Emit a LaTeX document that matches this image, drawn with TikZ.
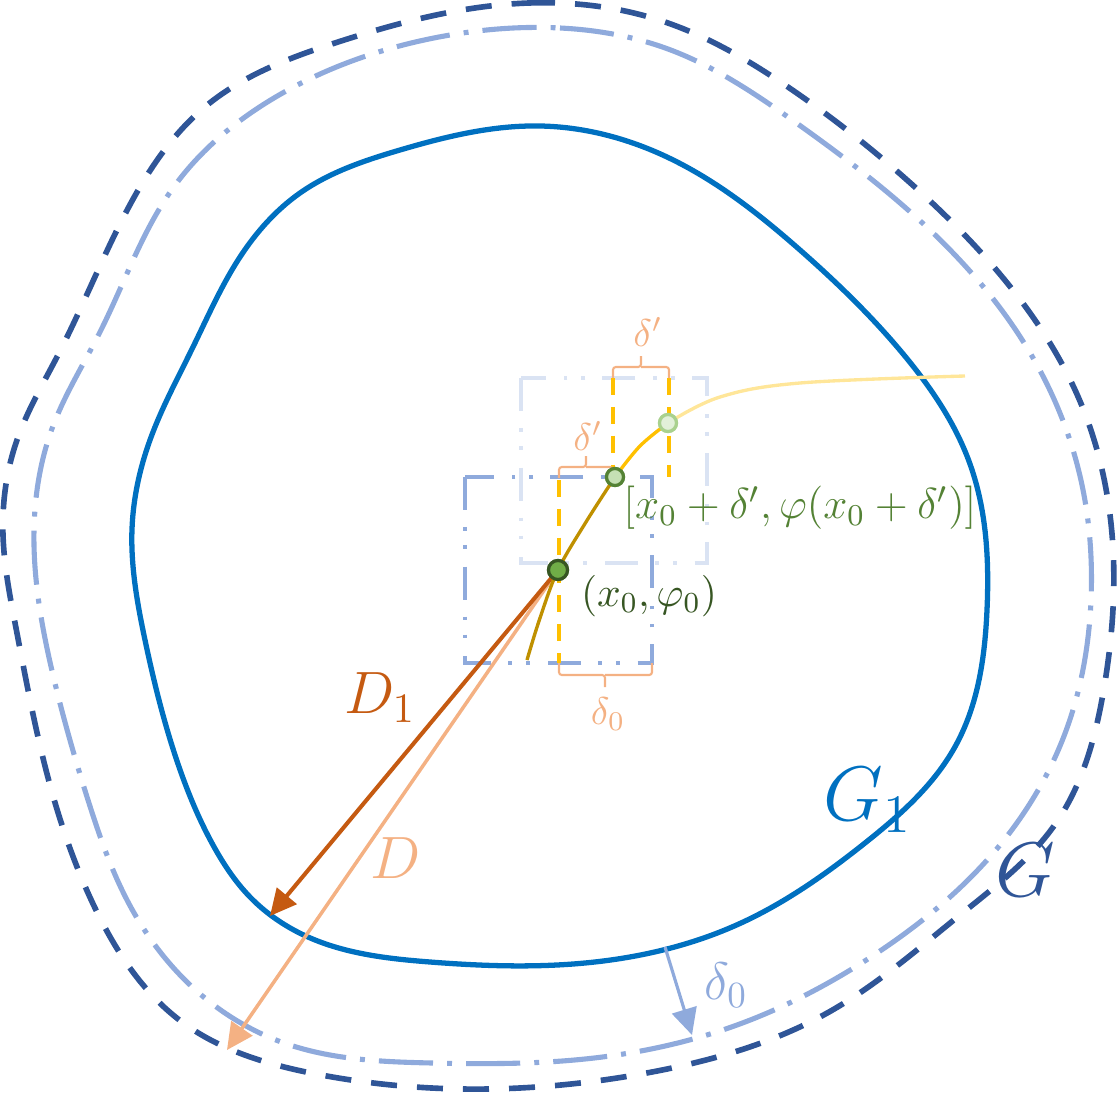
\documentclass[tikz,border=0pt]{standalone}
\usepackage{fix-cm}
\usetikzlibrary{arrows.meta,positioning,hobby}
\definecolor{gOneBlue}{HTML}{0070C0}
\definecolor{gBlue}{HTML}{2F5597}
\definecolor{gDeltaBlue}{HTML}{8FAADC}
\definecolor{boxPale}{HTML}{DAE3F3}
\definecolor{dOrange}{HTML}{C55A11}
\definecolor{dLight}{HTML}{F4B183}
\definecolor{phiGold}{HTML}{BF9000}
\definecolor{phiYellow}{HTML}{FFC000}
\definecolor{phiPale}{HTML}{FFE699}
\definecolor{ptDark}{HTML}{375623}
\definecolor{ptMid}{HTML}{548235}
\definecolor{ptFill}{HTML}{70AD47}
\definecolor{ptLight}{HTML}{A9D18E}
\definecolor{ptPale}{HTML}{C5E0B4}
\definecolor{ptPaler}{HTML}{E2F0D9}
\begin{document}
\begin{tikzpicture}[x=0.01cm,y=-0.01cm,
    ringdash/.style={gBlue,line width=1.6pt,dash pattern=on 7.4pt off 5.7pt},
    ringdashdot/.style={gDeltaBlue,line width=1.45pt,dash pattern=on 15.4pt off 4pt on 1.4pt off 4pt},
    boxline/.style={line width=1.15pt,dash pattern=on 9.4pt off 4.8pt on 1.1pt off 4pt on 1.1pt off 5.1pt},
    stripe/.style={phiYellow,line width=1.1pt,dash pattern=on 4.8pt off 3.4pt},
    brace/.style={dLight,line width=0.6pt,rounded corners=0.8pt},
    dot/.style={circle,inner sep=0pt,minimum size=0.17cm,line width=0.9pt},
    tip/.style={-{Triangle[length=7.5pt,width=7.2pt]}}]
    \useasboundingbox (0,0) rectangle (1118,1094);%

    \draw[ringdash] plot[closed hobby] coordinates {(529,3) (665,22) (785,85)
      (907,180) (1008,284) (1082,406) (1113,548) (1104,688) (1056,823) (960,915) (829,1012)
      (652,1072) (462,1089) (316,1074) (182,1022) (95,908) (46,770) (16,628) (3,535)
      (17,440) (58,355) (122,220) (206,106) (338,42)};%
    \draw[ringdashdot] plot[closed hobby] coordinates {(560,28) (668,49) (795,122)
      (917,218) (1019,335) (1080,476) (1091,600) (1067,728) (1000,845) (874,955) (737,1025)
      (585,1059) (432,1063) (284,1043) (187,982) (127,900) (88,800) (53,675) (34,545)
      (53,426) (100,332) (173,188) (288,90) (439,37)};%
    \draw[gOneBlue,line width=1.5pt] plot[closed hobby] coordinates {(540,126) (667,157)
      (800,250) (904,355) (970,464) (987,610) (956,745) (865,843) (741,923) (585,963)
      (430,962) (308,937) (250,897) (213,845) (176,758) (145,640) (132,529) (150,440)
      (193,347) (240,257) (300,193) (400,150)};%

    \draw[boxline,boxPale] (521,378) rectangle (707,563);%
    \draw[boxline,gDeltaBlue] (465,477) rectangle (652,663);%

    \draw[stripe] (559,480) -- (559,663);%
    \draw[stripe] (613,378) -- (613,477);%
    \draw[stripe] (669,378) -- (669,477);%

    \draw[brace] (613,378) -- (613,367) -- (641,367) -- (641,356);%
    \draw[brace] (641,367) -- (669,367) -- (669,378);%
    \draw[brace] (559,478) -- (559,467) -- (586,467) -- (586,456);%
    \draw[brace] (586,467) -- (613,467) -- (613,477);%
    \draw[brace] (559,663) -- (559,675) -- (605,675) -- (605,687);%
    \draw[brace] (605,675) -- (652,675) -- (652,663);%

    \node[dot,draw=ptDark,fill=ptFill,minimum size=0.19cm] (P0) at (558,570) {};%
    \node[dot,draw=ptMid,fill=ptPale] (P1) at (615,477) {};%
    \node[dot,draw=ptLight,fill=ptPaler] (P2) at (668,423) {};%

    \coordinate (tipDOne) at (270,916);%
    \coordinate (tipD) at (227,1050);%
    \coordinate (dzStart) at (665,947);%
    \coordinate (dzTip) at (692,1035);%

    \draw[tip,dLight,line width=1pt] (P0.center) -- (tipD);%
    \draw[tip,dOrange,line width=1.15pt] (P0.center) -- (tipDOne);%
    \draw[tip,gDeltaBlue,line width=0.9pt] (dzStart) -- (dzTip);%

    \draw[phiGold,line width=0.95pt] plot[smooth,tension=0.6] coordinates {(527,660) (540,618)
      (558,570) (586,522) (615,477)};%
    \draw[phiYellow,line width=0.95pt] plot[smooth,tension=0.6] coordinates {(615,477)
      (640,446) (668,423)};%
    \draw[phiPale,line width=0.95pt] plot[smooth,tension=0.6] coordinates {(668,423)
      (720,397) (800,383) (965,376)};%

    \node[dot,draw=ptDark,fill=ptFill,minimum size=0.19cm] at (P0) {};%
    \node[dot,draw=ptMid,fill=ptPale] at (P1) {};%
    \node[dot,draw=ptLight,fill=ptPaler] at (P2) {};%

    \node[ptDark,font=\fontsize{11.8}{14}\selectfont] (lblPZero) at (649,596) {$(x_0,\varphi_0)$};%
    \node[ptMid,font=\fontsize{12.3}{15}\selectfont] (lblPOne) at (800,508) {$[x_0+\delta',\varphi(x_0+\delta')]$};%
    \node[dLight,font=\fontsize{11}{13}\selectfont] (lblDeltaTop) at (648,332) {$\delta'$};%
    \node[dLight,font=\fontsize{11}{13}\selectfont] (lblDeltaMid) at (588,436) {$\delta'$};%
    \node[dLight,font=\fontsize{11}{13}\selectfont] (lblDeltaLow) at (608,714) {$\delta_0$};%
    \node[dOrange,font=\fontsize{17}{20}\selectfont] (lblDOne) at (380,698) {$D_1$};%
    \node[dLight,font=\fontsize{17}{20}\selectfont] (lblD) at (396,858) {$D$};%
    \node[gOneBlue,font=\fontsize{22}{26}\selectfont] (lblGOne) at (868,800) {$G_1$};%
    \node[gBlue,font=\fontsize{22}{26}\selectfont] (lblG) at (1025,870) {$G$};%
    \node[gDeltaBlue,font=\fontsize{15}{18}\selectfont] (lblDeltaZero) at (726,985) {$\delta_0$};%
  \end{tikzpicture}
\end{document}
